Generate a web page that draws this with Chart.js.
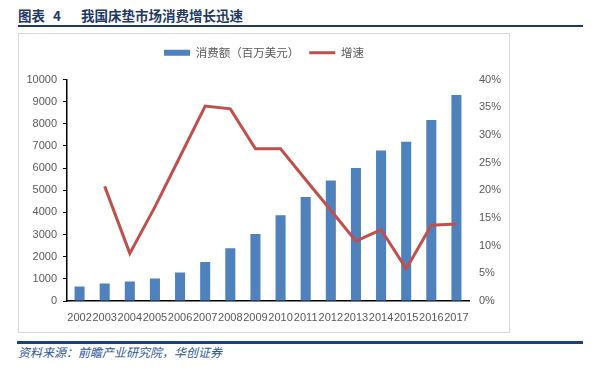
<!DOCTYPE html>
<html>
<head>
<meta charset="utf-8">
<script src="https://cdn.jsdelivr.net/npm/chart.js@4/dist/chart.umd.min.js"></script>
<style>
  html, body { margin: 0; padding: 0; background: #fff; }
  body { width: 600px; height: 379px; position: relative; overflow: hidden; }
  #title { position: absolute; left: 18px; top: 5px; font-family: "Noto Sans CJK SC", sans-serif; font-weight: bold; font-size: 13.5px; color: #1f3864; white-space: nowrap; line-height: 20px; }
  #title .num { margin-left: 8px; margin-right: 20px; }
  #rule1 { position: absolute; left: 18px; top: 25px; width: 565px; height: 2px; background: #1f3864; }
  #box { position: absolute; left: 18px; top: 33px; width: 492px; height: 300px; border: 1px solid #d9d9d9; box-sizing: border-box; }
  #rule2 { position: absolute; left: 17px; top: 341px; width: 566px; height: 3px; background: #1f3f7a; }
  #source { position: absolute; left: 18px; top: 343px; font-family: "Noto Sans CJK SC", sans-serif; font-style: italic; font-size: 12px; color: #2f5597; line-height: 18px; }
</style>
</head>
<body>
<div id="title">图表<span class="num">4</span>我国床垫市场消费增长迅速</div>
<div id="rule1"></div>
<div id="box"><canvas id="c"></canvas></div>
<div id="rule2"></div>
<div id="source">资料来源：前瞻产业研究院，华创证券</div>
<script>
const years = ['2002','2003','2004','2005','2006','2007','2008','2009','2010','2011','2012','2013','2014','2015','2016','2017'];
const consumption = [660, 790, 880, 1020, 1290, 1760, 2380, 3030, 3870, 4690, 5440, 6010, 6800, 7190, 8170, 9300];
const growth = [null, 20.7, 8.6, 17.0, 26.1, 35.2, 34.7, 27.5, 27.5, 21.9, 16.4, 10.8, 12.9, 5.8, 13.7, 13.9];
const seriesNames = ['消费额（百万美元）', '增速'];

const tickFont = { family: '"Liberation Sans", sans-serif', size: 11 };
const tickColor = '#595959';

const legendSpace = {
  id: 'legendSpace',
  beforeUpdate(chart) {
    const lg = chart.legend;
    if (lg && !lg._patched) {
      const orig = lg.fit;
      lg.fit = function () { orig.call(this); this.height += 11; };
      lg._patched = true;
    }
  }
};

new Chart(document.getElementById('c'), {
  type: 'bar',
  data: {
    labels: years,
    datasets: [
      {
        type: 'bar',
        label: seriesNames[0],
        data: consumption,
        backgroundColor: '#4f81bd',
        borderWidth: 0,
        barPercentage: 0.4,
        categoryPercentage: 1.0,
        yAxisID: 'y',
        pointStyle: 'rect',
        order: 1
      },
      {
        type: 'line',
        label: seriesNames[1],
        data: growth,
        borderColor: '#c0504d',
        backgroundColor: '#c0504d',
        borderWidth: 3,
        pointRadius: 0,
        pointStyle: 'line',
        tension: 0,
        yAxisID: 'y1',
        order: 0
      }
    ]
  },
  options: {
    responsive: true,
    maintainAspectRatio: false,
    animation: false,
    layout: { padding: { top: 3, right: 0, bottom: 0, left: 0 } },
    plugins: {
      tooltip: { enabled: false },
      legend: {
        display: true,
        position: 'top',
        labels: {
          usePointStyle: true,
          pointStyleWidth: 26,
          boxWidth: 26,
          boxHeight: 6,
          padding: 10,
          color: '#595959',
          font: { family: '"Noto Sans CJK SC", sans-serif', size: 11.5 },
          sort: (a, b) => a.datasetIndex - b.datasetIndex
        }
      }
    },
    scales: {
      x: {
        grid: { display: false },
        border: { display: true, color: '#000', width: 1.5 },
        ticks: { color: tickColor, font: tickFont, maxRotation: 0, minRotation: 0, autoSkip: false, padding: 2 },
        afterFit(s) { s.height = 31; }
      },
      y: {
        position: 'left',
        min: 0, max: 10000,
        ticks: { stepSize: 1000, color: tickColor, font: tickFont, padding: 6, callback: v => String(v) },
        grid: { display: true, drawOnChartArea: false, drawTicks: true, tickLength: 4, color: '#000', lineWidth: 1 },
        border: { display: true, color: '#000', width: 1.5 },
        afterFit(s) { s.width = 48; }
      },
      y1: {
        position: 'right',
        min: 0, max: 40,
        ticks: { stepSize: 5, color: tickColor, font: tickFont, padding: 10, callback: v => v + '%' },
        grid: { display: false, drawTicks: false },
        border: { display: false },
        afterFit(s) { s.width = 40; }
      }
    }
  },
  plugins: [legendSpace]
});
</script>
</body>
</html>
